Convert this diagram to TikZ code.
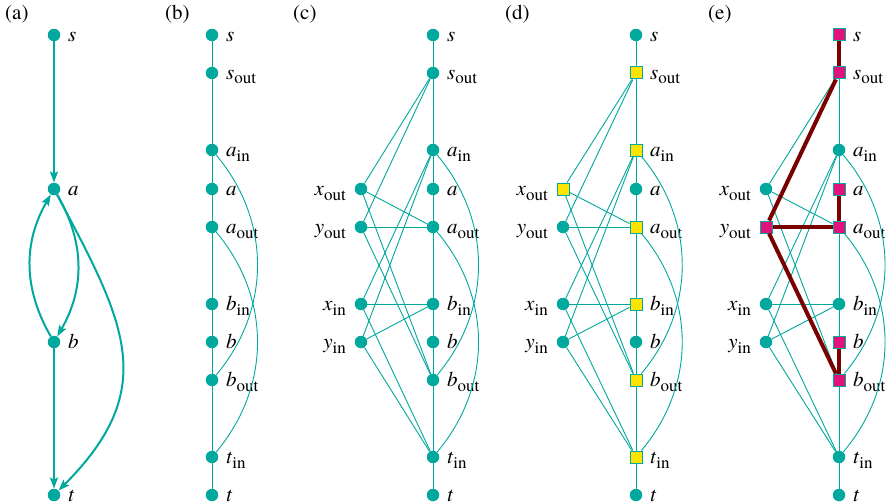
\documentclass[tikz,border=0pt]{standalone}
\usepackage{fontspec}
\setmainfont{texgyretermes}[Extension=.otf,UprightFont=*-regular,ItalicFont=*-italic,BoldFont=*-bold,BoldItalicFont=*-bolditalic]
\usetikzlibrary{arrows.meta}
\definecolor{tl}{RGB}{0,168,157}
\definecolor{yl}{RGB}{255,228,0}
\definecolor{mg}{RGB}{224,18,124}
\definecolor{dr}{RGB}{122,0,0}
\newcommand\sbx[1]{{\fontsize{17}{17}\selectfont\raisebox{-4.5pt}{#1}}}
\newcommand\labR[2]{\node[lr] at ([xshift=14pt,yshift=-6.5pt]#1.center) {#2};}
\newcommand\labL[2]{\node[ll] at ([xshift=-15pt,yshift=-6.5pt]#1.center) {#2};}
\newcommand\chainNodes[2]{%
 \node[dot] (#1-s) at (#2,35) {};
 \node[dot] (#1-sout) at (#2,73) {};
 \node[dot] (#1-ain) at (#2,150) {};
 \node[dot] (#1-a) at (#2,189) {};
 \node[dot] (#1-aout) at (#2,227) {};
 \node[dot] (#1-bin) at (#2,304) {};
 \node[dot] (#1-b) at (#2,342) {};
 \node[dot] (#1-bout) at (#2,380) {};
 \node[dot] (#1-tin) at (#2,457) {};
 \node[dot] (#1-t) at (#2,495) {};
 \labR{#1-s}{\textit{s}}
 \labR{#1-sout}{\textit{s}\sbx{out}}
 \labR{#1-ain}{\textit{a}\sbx{in}}
 \labR{#1-a}{\textit{a}}
 \labR{#1-aout}{\textit{a}\sbx{out}}
 \labR{#1-bin}{\textit{b}\sbx{in}}
 \labR{#1-b}{\textit{b}}
 \labR{#1-bout}{\textit{b}\sbx{out}}
 \labR{#1-tin}{\textit{t}\sbx{in}}
 \labR{#1-t}{\textit{t}}
}
\newcommand\leftNodes[2]{%
 \node[dot] (#1-xout) at (#2,189) {};
 \node[dot] (#1-yout) at (#2,227) {};
 \node[dot] (#1-xin) at (#2,304) {};
 \node[dot] (#1-yin) at (#2,342) {};
 \labL{#1-xout}{\textit{x}\sbx{out}}
 \labL{#1-yout}{\textit{y}\sbx{out}}
 \labL{#1-xin}{\textit{x}\sbx{in}}
 \labL{#1-yin}{\textit{y}\sbx{in}}
}
\newcommand\chainEdges[1]{%
 \draw[e] (#1-s)--(#1-sout);
 \draw[e] (#1-sout)--(#1-ain);
 \draw[e] (#1-ain)--(#1-a);
 \draw[e] (#1-a)--(#1-aout);
 \draw[e] (#1-aout)--(#1-bin);
 \draw[e] (#1-bin)--(#1-b);
 \draw[e] (#1-b)--(#1-bout);
 \draw[e] (#1-bout)--(#1-tin);
 \draw[e] (#1-tin)--(#1-t);
 \draw[e] (#1-ain) to[bend left=40] (#1-bout);
 \draw[e] (#1-aout) to[bend left=40] (#1-tin);
}
\newcommand\leftEdges[1]{%
 \draw[e] (#1-xout)--(#1-sout);
 \draw[e] (#1-yout)--(#1-sout);
 \draw[e] (#1-xout)--(#1-aout);
 \draw[e] (#1-yout)--(#1-aout);
 \draw[e] (#1-xout)--(#1-bout);
 \draw[e] (#1-yout)--(#1-bout);
 \draw[e] (#1-xin)--(#1-ain);
 \draw[e] (#1-yin)--(#1-ain);
 \draw[e] (#1-xin)--(#1-bin);
 \draw[e] (#1-yin)--(#1-bin);
 \draw[e] (#1-xin)--(#1-tin);
 \draw[e] (#1-yin)--(#1-tin);
}
\begin{document}
\begin{tikzpicture}[x=1pt,y=-1pt,
  dot/.style={circle,fill=tl,inner sep=0pt,minimum size=12.5pt},
  ysq/.style={rectangle,fill=yl,draw=tl,line width=1pt,inner sep=0pt,minimum size=12pt},
  msq/.style={rectangle,fill=mg,draw=tl,line width=1pt,inner sep=0pt,minimum size=12pt},
  e/.style={draw=tl,line width=0.9pt},
  thk/.style={draw=dr,line width=4pt},
  arr/.style={draw=tl,line width=2pt,-{Stealth[length=11pt,width=8pt,inset=2pt]}},
  lr/.style={anchor=base west,inner sep=0pt,font=\fontsize{21}{23}\selectfont},
  ll/.style={anchor=base east,inner sep=0pt,font=\fontsize{21}{23}\selectfont},
  pl/.style={anchor=base west,inner sep=0pt,font=\fontsize{21}{23}\selectfont}]
\useasboundingbox (0,0) rectangle (889,503);
% panel labels
\node[pl] (la) at (5,20) {(a)};
\node[pl] (lb) at (165,20) {(b)};
\node[pl] (lc) at (293,20) {(c)};
\node[pl] (ld) at (505,20) {(d)};
\node[pl] (le) at (708,20) {(e)};
% panel (a)
\node[dot] (A-s) at (54,35) {};
\node[dot] (A-a) at (54,189) {};
\node[dot] (A-b) at (54,342) {};
\node[dot] (A-t) at (54,495) {};
\labR{A-s}{\textit{s}}
\labR{A-a}{\textit{a}}
\labR{A-b}{\textit{b}}
\labR{A-t}{\textit{t}}
\draw[arr] (A-s) -- (A-a);
\draw[arr] (A-a) to[bend left=30] (A-b);
\draw[arr] (A-b) to[bend left=30] (A-a);
\draw[arr] (A-a) to[out=-62,in=45,looseness=1.25] (A-t);
\draw[arr] (A-b) -- (A-t);
% panel (b)
\chainNodes{B}{212}
\chainEdges{B}
% panel (c)
\chainNodes{C}{433}
\leftNodes{C}{361}
\chainEdges{C}
\leftEdges{C}
% panel (d)
\chainNodes{D}{636}
\leftNodes{D}{563}
\foreach \n in {sout,ain,aout,bin,bout,tin} {\node[ysq] (D-\n) at (D-\n) {};}
\node[ysq] (D-xout) at (D-xout) {};
\chainEdges{D}
\leftEdges{D}
% panel (e)
\chainNodes{E}{839}
\leftNodes{E}{766}
\foreach \n in {s,sout,a,aout,b,bout} {\node[msq] (E-\n) at (E-\n) {};}
\node[msq] (E-yout) at (E-yout) {};
\chainEdges{E}
\leftEdges{E}
\draw[thk] (E-s)--(E-sout);
\draw[thk] (E-sout)--(E-yout);
\draw[thk] (E-yout)--(E-aout);
\draw[thk] (E-aout)--(E-a);
\draw[thk] (E-yout)--(E-bout);
\draw[thk] (E-bout)--(E-b);
\end{tikzpicture}
\end{document}
